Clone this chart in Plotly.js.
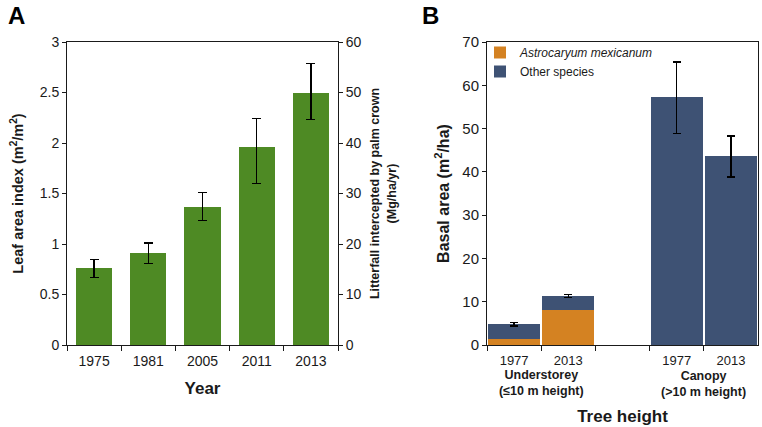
<!DOCTYPE html>
<html><head><meta charset="utf-8">
<script src="https://cdn.plot.ly/plotly-3.0.1.min.js"></script>
<style>body{margin:0;background:#fff;} #chart{width:762px;height:427px;}</style>
</head><body><div id="chart"></div>
<script>
// Panel A data
const years = ['1975', '1981', '2005', '2011', '2013'];
const leafAreaIndex = [0.76, 0.91, 1.37, 1.96, 2.50];
const laiErrPlus = [0.09, 0.10, 0.14, 0.28, 0.29];
const laiErrMinus = [0.09, 0.10, 0.14, 0.36, 0.27];

// Panel B data
const axisCategories = ['Understorey 1977', 'Understorey 2013', ' ', 'Canopy 1977', 'Canopy 2013'];
const axisTickText = ['1977', '2013', '', '1977', '2013'];
const barCategories = ['Understorey 1977', 'Understorey 2013', 'Canopy 1977', 'Canopy 2013'];
const astrocaryum = [1.5, 8.0, 0, 0];
const otherSpecies = [3.3, 3.3, 57.2, 43.6];
const otherErrPlus = [0.4, 0.35, 8.2, 4.7];
const otherErrMinus = [0.4, 0.35, 8.3, 4.8];

const FONT = 'Arial, "Liberation Sans", sans-serif';
const INK = '#1a1a1a';

const traces = [
  {
    type: 'bar', x: years, y: leafAreaIndex, xaxis: 'x', yaxis: 'y',
    marker: {color: '#4e8a24'}, showlegend: false, width: 0.67,
    error_y: {type: 'data', symmetric: false, array: laiErrPlus, arrayminus: laiErrMinus,
      color: '#000', thickness: 1.3, width: 4.5}
  },
  // empty trace so the secondary (litterfall) axis is drawn
  {type: 'scatter', mode: 'markers', x: [], y: [], xaxis: 'x', yaxis: 'y2', showlegend: false, hoverinfo: 'skip'},
  {
    type: 'bar', x: barCategories, y: astrocaryum, xaxis: 'x2', yaxis: 'y3',
    name: '<i>Astrocaryum mexicanum</i>', marker: {color: '#d48222'}, width: 0.96
  },
  {
    type: 'bar', x: barCategories, y: otherSpecies, xaxis: 'x2', yaxis: 'y3',
    name: 'Other species', marker: {color: '#3e5274'}, width: 0.96,
    error_y: {type: 'data', symmetric: false, array: otherErrPlus, arrayminus: otherErrMinus,
      color: '#000', thickness: 1.3, width: 4}
  }
];

const axisCommon = {
  showline: true, linecolor: INK, linewidth: 1, ticks: 'outside', tickcolor: INK,
  tickwidth: 1, showgrid: false, zeroline: false, automargin: false,
  tickfont: {family: FONT, size: 14, color: INK}
};

const layout = {
  width: 762, height: 427,
  margin: {l: 0, r: 0, t: 0, b: 0},
  paper_bgcolor: '#fff', plot_bgcolor: '#fff',
  font: {family: FONT, color: INK},
  barmode: 'stack',
  xaxis: Object.assign({}, axisCommon, {
    domain: [67/762, 338/762], anchor: 'y', type: 'category', tickson: 'boundaries',
    ticklen: 5, mirror: true, ticklabelstandoff: 3,
    title: {text: '<b>Year</b>', font: {family: FONT, size: 17, color: INK}, standoff: 14}
  }),
  yaxis: Object.assign({}, axisCommon, {
    domain: [1 - 345/427, 1 - 42/427], anchor: 'x', range: [0, 3], dtick: 0.5, ticklen: 4,
    title: {text: '<b>Leaf area index (m<sup>2</sup>/m<sup>2</sup>)</b>', font: {family: FONT, size: 14.5, color: INK}, standoff: 12}
  }),
  yaxis2: Object.assign({}, axisCommon, {
    overlaying: 'y', side: 'right', anchor: 'x', range: [0, 60], dtick: 10, ticklen: 4,
    title: {text: '<b>Litterfall intercepted by palm crown</b><br><b>(Mg/ha/yr)</b>', font: {family: FONT, size: 12.5, color: INK}, standoff: -14}
  }),
  xaxis2: Object.assign({}, axisCommon, {
    domain: [487/762, 758/762], anchor: 'y3', type: 'category',
    categoryorder: 'array', categoryarray: axisCategories, range: [-0.5, 4.5],
    tickmode: 'array', tickvals: axisCategories, ticktext: axisTickText,
    tickson: 'boundaries', ticklen: 5, mirror: true, ticklabelstandoff: 3,
    tickfont: {family: FONT, size: 13, color: INK},
    title: {text: '<b>Tree height</b>', font: {family: FONT, size: 17, color: INK}, standoff: 43}
  }),
  yaxis3: Object.assign({}, axisCommon, {
    domain: [1 - 345/427, 1 - 42/427], anchor: 'x2', range: [0, 70], dtick: 10, ticklen: 4, mirror: true,
    tickfont: {family: FONT, size: 15, color: INK},
    title: {text: '<b>Basal area (m<sup>2</sup>/ha)</b>', font: {family: FONT, size: 16, color: INK}, standoff: 8}
  }),
  legend: {
    x: 480/762, y: 1 - 38/427, xanchor: 'left', yanchor: 'top', traceorder: 'normal',
    bgcolor: 'rgba(0,0,0,0)', font: {family: FONT, size: 12, color: INK},
    itemwidth: 30, tracegroupgap: 0
  },
  annotations: [
    {text: '<b>A</b>', x: 6/762, y: 1, xref: 'paper', yref: 'paper', xanchor: 'left', yanchor: 'top',
      showarrow: false, font: {family: FONT, size: 24, color: '#000'}},
    {text: '<b>B</b>', x: 420/762, y: 1, xref: 'paper', yref: 'paper', xanchor: 'left', yanchor: 'top',
      showarrow: false, font: {family: FONT, size: 24, color: '#000'}},
    {text: '<b>Understorey</b><br><b>(≤10 m height)</b>', x: 0.5, y: 1 - 366/427, xref: 'x2', yref: 'paper',
      xanchor: 'center', yanchor: 'top', showarrow: false, font: {family: FONT, size: 12.5, color: INK}},
    {text: '<b>Canopy</b><br><b>(>10 m height)</b>', x: 3.5, y: 1 - 367/427, xref: 'x2', yref: 'paper',
      xanchor: 'center', yanchor: 'top', showarrow: false, font: {family: FONT, size: 12.5, color: INK}}
  ]
};

Plotly.newPlot('chart', traces, layout, {staticPlot: true, displayModeBar: false});
</script>
</body></html>
